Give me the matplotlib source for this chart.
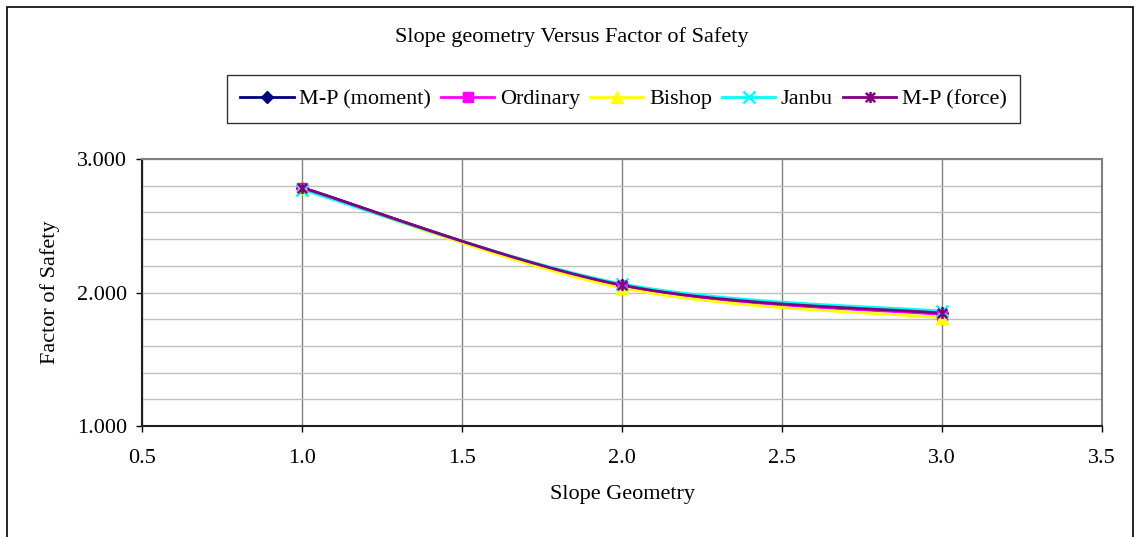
import numpy as np
import matplotlib
matplotlib.use("Agg")
import matplotlib.pyplot as plt
from matplotlib.path import Path
from matplotlib.patches import Rectangle

# Slope geometry values and computed factors of safety
slope_geometry = [1.0, 2.0, 3.0]
fs_mp_moment = [2.785, 2.055, 1.845]
fs_ordinary = [2.785, 2.050, 1.835]
fs_bishop = [2.780, 2.035, 1.810]
fs_janbu = [2.770, 2.065, 1.860]
fs_mp_force = [2.785, 2.055, 1.845]

series_names = ["M-P (moment)", "Ordinary", "Bishop", "Janbu", "M-P (force)"]
x_ticks = [0.5, 1.0, 1.5, 2.0, 2.5, 3.0, 3.5]
y_ticks = [1.0, 2.0, 3.0]

plt.rcParams["font.family"] = ["Liberation Serif", "DejaVu Serif"]
FS = 16


def smooth_curve(xs, ys, n=60):
    """Catmull-Rom style smoothing through the data points (cubic Bezier pieces)."""
    pts = np.column_stack([xs, ys]).astype(float)
    ext = np.vstack([pts[0], pts, pts[-1]])
    out = []
    for i in range(len(pts) - 1):
        p0, p1, p2, p3 = ext[i], ext[i + 1], ext[i + 2], ext[i + 3]
        b0 = p1
        b1 = p1 + (p2 - p0) / 6.0
        b2 = p2 - (p3 - p1) / 6.0
        b3 = p2
        t = np.linspace(0, 1, n)[:, None]
        seg = ((1 - t) ** 3) * b0 + 3 * ((1 - t) ** 2) * t * b1 + 3 * (1 - t) * t ** 2 * b2 + t ** 3 * b3
        out.append(seg if i == 0 else seg[1:])
    c = np.vstack(out)
    return c[:, 0], c[:, 1]


# asterisk marker: an x with a vertical stroke
star_verts = [(-1, -1), (1, 1), (-1, 1), (1, -1), (0, -1.2), (0, 1.2)]
star_codes = [Path.MOVETO, Path.LINETO] * 3
star_marker = Path(star_verts, star_codes)

styles = [
    dict(color="#000080", marker="D", ms=6.5, mfc="#000080", mec="#000080"),
    dict(color="#FF00FF", marker="s", ms=6.5, mfc="#FF00FF", mec="#FF00FF"),
    dict(color="#FFFF00", marker="^", ms=8, mfc="#FFFF00", mec="#FFFF00"),
    dict(color="#00FFFF", marker="x", ms=8, mec="#00FFFF", mew=1.8),
    dict(color="#800080", marker=star_marker, ms=8, mec="#800080", mew=1.8),
]
all_series = [fs_mp_moment, fs_ordinary, fs_bishop, fs_janbu, fs_mp_force]

fig = plt.figure(figsize=(11.39, 5.37), dpi=100)
ax = fig.add_axes([142 / 1139, 111 / 537, 960 / 1139, 267 / 537])

handles = []
for name, ys, st in zip(series_names, all_series, styles):
    sx, sy = smooth_curve(slope_geometry, ys)
    ax.plot(sx, sy, color=st["color"], lw=2.0, zorder=3, solid_capstyle="round")
    ax.plot(slope_geometry, ys, ls="none", zorder=4,
            **{k: v for k, v in st.items() if k != "color"})
    h, = ax.plot([], [], color=st["color"], lw=2.0,
                 **{k: v for k, v in st.items() if k != "color"})
    handles.append(h)

ax.set_xlim(0.5, 3.5)
ax.set_ylim(1.0, 3.0)
ax.set_xticks(x_ticks)
ax.set_xticklabels([f"{v:.1f}" for v in x_ticks])
ax.set_yticks(y_ticks)
ax.set_yticklabels([f"{v:.3f}" for v in y_ticks])
ax.set_yticks(np.arange(1.0, 3.0001, 0.2), minor=True)
ax.tick_params(axis="y", which="minor", length=0)
ax.tick_params(axis="both", which="major", direction="out", length=4,
               width=1, labelsize=FS, colors="black")
ax.tick_params(axis="x", pad=12.5)
ax.tick_params(axis="y", pad=6.5)

ax.grid(axis="x", which="major", color="#808080", lw=1.0, zorder=0)
ax.grid(axis="y", which="both", color="#c0c0c0", lw=1.0, zorder=0)
ax.set_axisbelow(True)

for side in ("top", "right"):
    ax.spines[side].set_color("#808080")
    ax.spines[side].set_linewidth(1.5)
for side in ("left", "bottom"):
    ax.spines[side].set_color("#202020")
    ax.spines[side].set_linewidth(1.5)

ax.set_xlabel("Slope Geometry", fontsize=FS, labelpad=12)
ax.set_ylabel("Factor of Safety", fontsize=FS, labelpad=12.5)

fig.text(572 / 1139, 1 - 37 / 537, "Slope geometry Versus Factor of Safety",
         ha="center", va="center", fontsize=FS)

leg = fig.legend(handles, series_names, ncol=5, loc="center left",
                 bbox_to_anchor=(227 / 1139, 1 - 99 / 537), fontsize=FS,
                 frameon=True, fancybox=False, handlelength=2.4,
                 handletextpad=0.25, columnspacing=0.45, borderpad=0.6,
                 borderaxespad=0)
leg.get_frame().set_edgecolor("black")
leg.get_frame().set_linewidth(1.0)

# chart border
fig.patches.append(Rectangle((7 / 1139, -0.02), 1126 / 1139, 1.02 - 7 / 537,
                             transform=fig.transFigure, fill=False,
                             edgecolor="black", lw=1.2))

fig.savefig("out.png", dpi=100)
